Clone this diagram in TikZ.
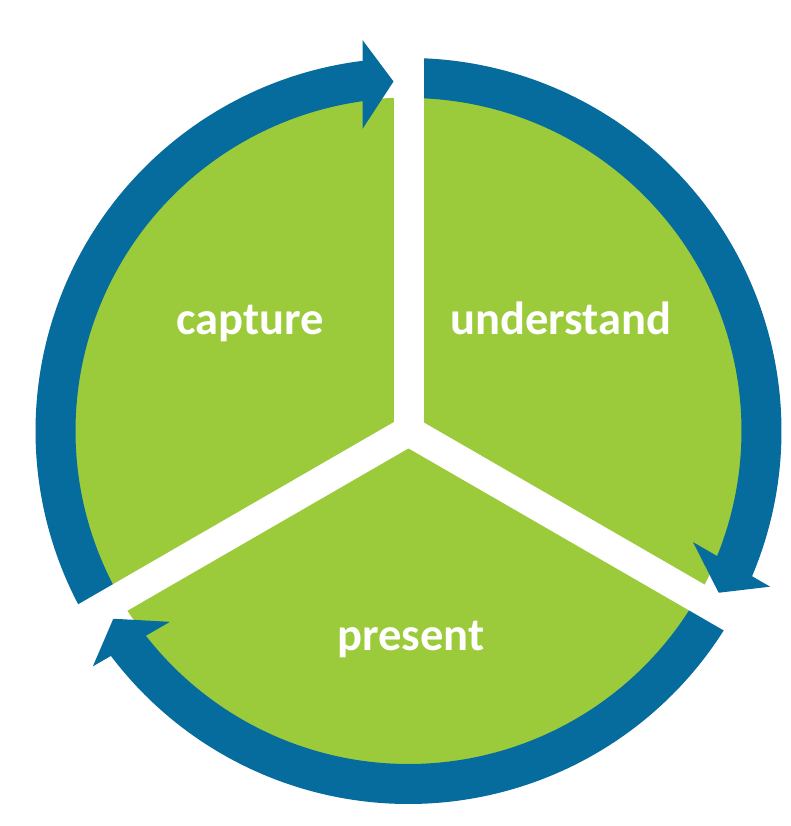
\documentclass[tikz,border=0pt]{standalone}
\usepackage{fontspec}
\newfontfamily\labfont{Carlito}
\definecolor{ringblue}{RGB}{6,108,157}
\definecolor{leafgreen}{RGB}{155,203,59}
\begin{document}
\begin{tikzpicture}[x=1pt,y=1pt,
  shaft/.style={fill=ringblue},
  arrowhead/.style={fill=ringblue},
  gapbar/.style={fill=white},
  lab/.style={text=white, font=\labfont\bfseries\fontsize{46.5}{54}\selectfont, anchor=base, inner sep=0pt}]
\useasboundingbox (-408.5,-395) rectangle (382.5,431);
\fill[leafgreen] (0,0) circle (333.5);
\foreach \r in {0,-120,-240}{
  \begin{scope}[rotate=\r]
    \fill[shaft] (96.93:373) arc[start angle=96.93,end angle=210,radius=373]
      -- (210:333) arc[start angle=210,end angle=97.77,radius=333] -- cycle;
    \fill[arrowhead] (-15,349.5) -- (-46,391) -- (-46,302) -- cycle;
  \end{scope}
}
\foreach \a in {90,210,330}{
  \fill[gapbar,rotate=\a] (0,-15) rectangle (420,15);
}
\node[lab] (capture) at (-158.5,96) {capture};
\node[lab] (understand) at (152.5,96) {understand};
\node[lab] (present) at (2.5,-219) {present};
\end{tikzpicture}
\end{document}
